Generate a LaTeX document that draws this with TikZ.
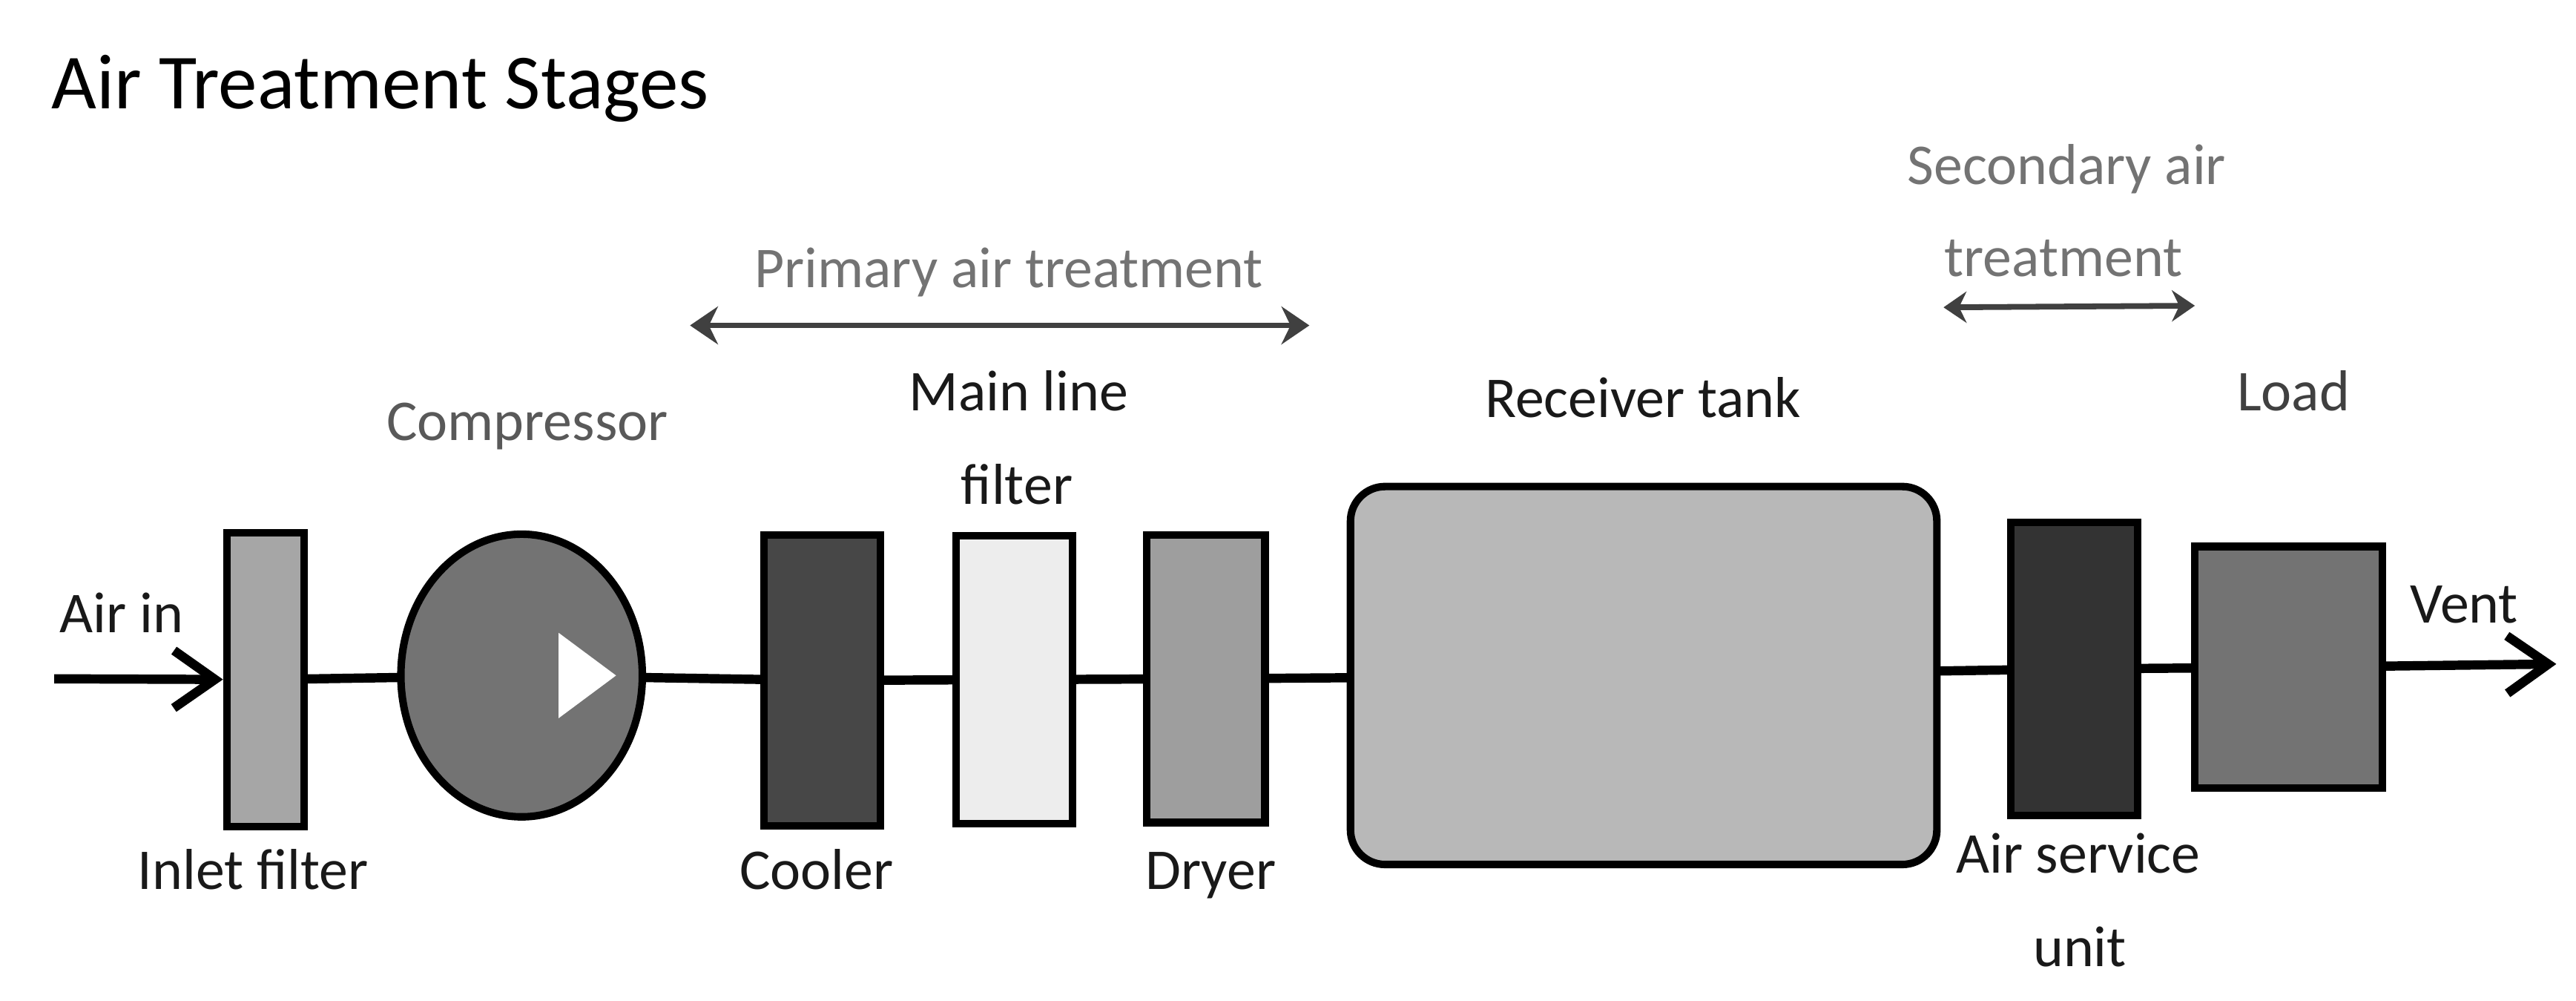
\documentclass[tikz,border=0pt]{standalone}
\usepackage{fontspec}
\setmainfont{Carlito}
\usetikzlibrary{arrows.meta,shapes.geometric,backgrounds}

\begin{document}
\begin{tikzpicture}[
    x=0.02cm, y=-0.02cm,
    unit/.style={draw, line width=2.6pt, inner sep=0pt},
    pipe/.style={line width=3.2pt},
    flow/.style={pipe, -{Straight Barb[length=5mm,width=7mm]}},
    lbl/.style={font=\fontsize{20}{24}\selectfont, anchor=base, inner sep=0pt, text=black!90},
    faint/.style={lbl, text=black!55},
    span/.style={line width=2pt, draw=black!75},
    >=Stealth
  ]
  \useasboundingbox (0,0) rectangle (1568,609);

  \node[anchor=base west, inner sep=0pt, font=\fontsize{27}{32}\selectfont] (title) at (31,66) {Air Treatment Stages};

  % stages along the line
  \node[unit, fill=black!35, minimum width=0.94cm, minimum height=3.58cm] (inlet) at (161.5,413.5) {};
  \node[unit, ellipse, fill=black!55, minimum width=2.94cm, minimum height=3.44cm] (comp) at (317.5,411) {};
  \node[unit, fill=black!72, minimum width=1.42cm, minimum height=3.54cm] (cooler) at (500.5,414) {};
  \node[unit, fill=black!7, minimum width=1.42cm, minimum height=3.5cm] (mlf) at (617.5,413.5) {};
  \node[unit, fill=black!38, minimum width=1.44cm, minimum height=3.5cm] (dryer) at (734,413) {};
  \node[unit, fill=black!28, rounded corners=0.42cm, minimum width=7.14cm, minimum height=4.6cm] (tank) at (1000.5,411) {};
  \node[unit, fill=black!80, minimum width=1.54cm, minimum height=3.56cm] (asu) at (1262.5,407) {};
  \node[unit, fill=black!55, minimum width=2.28cm, minimum height=2.94cm] (load) at (1393,406) {};

  \fill[white] ([shift={(22.5,-26)}]comp.center) -- ([shift={(57.5,0)}]comp.center)
    -- ([shift={(22.5,26)}]comp.center) -- cycle;

  \coordinate (airin) at (33,413);
  \coordinate (vent) at (1556,404);

  \begin{scope}[on background layer]
    \draw[pipe] (inlet.center) -- (comp.center) -- (cooler.center) -- (mlf.center)
      -- (dryer.center) -- (tank.center) -- (asu.center) -- (load.center);
  \end{scope}
  \draw[flow] (airin) -- (inlet);
  \draw[flow] (load) -- (vent);

  % labels
  \node[lbl] (airinlbl) at (74,385) {Air in};
  \node[lbl] (inletlbl) at (154,541) {Inlet filter};
  \node[lbl, text=black!65] (complbl) at (321,268) {Compressor};
  \node[lbl] (coolerlbl) at (497,541) {Cooler};
  \node[lbl] (mainlbl) at (620,250) {Main line};
  \node[lbl] (filterlbl) at (619,307) {filter};
  \node[lbl] (dryerlbl) at (737,541) {Dryer};
  \node[lbl] (tanklbl) at (1000,254) {Receiver tank};
  \node[lbl] (asulbl) at (1265,531) {Air service};
  \node[lbl] (unitlbl) at (1266,588) {unit};
  \node[lbl, text=black!75] (loadlbl) at (1396,250) {Load};
  \node[lbl] (ventlbl) at (1500,379) {Vent};

  % treatment spans
  \node[faint] (primlbl) at (614,175) {Primary air treatment};
  \coordinate (pl) at (420,198);
  \coordinate (pr) at (797,198);
  \draw[span, {Stealth[length=3.4mm,width=4.6mm]}-{Stealth[length=3.4mm,width=4.6mm]}] (pl) -- (pr);

  \node[faint] (seclbl) at (1258,112) {Secondary air};
  \node[faint] (treatlbl) at (1256,168) {treatment};
  \coordinate (sl) at (1183,187);
  \coordinate (sr) at (1336,186);
  \draw[span, {Stealth[length=2.8mm,width=3.8mm]}-{Stealth[length=2.8mm,width=3.8mm]}] (sl) -- (sr);
\end{tikzpicture}
\end{document}
